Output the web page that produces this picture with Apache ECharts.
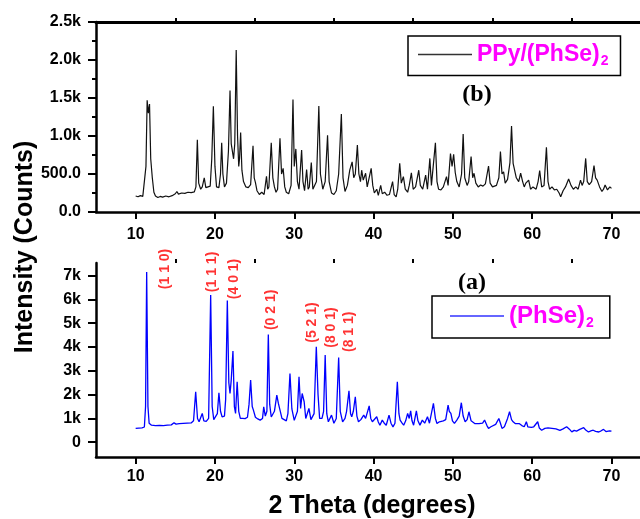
<!DOCTYPE html>
<html>
<head>
<meta charset="utf-8">
<script src="https://cdn.jsdelivr.net/npm/echarts@6/dist/echarts.min.js"></script>
<style>
html, body { margin: 0; padding: 0; background: #fff; }
#chart { width: 640px; height: 519px; }
</style>
</head>
<body>
<div id="chart"></div>
<script>
// (b) PPy/(PhSe)2 pattern, [2theta, counts]
var ppyData = [
  [10.0,210],[10.3,200],[10.6,215],[10.9,205],[11.1,230],[11.3,600],[11.45,1470],[11.6,1300],[11.75,1420],[11.9,700],[12.1,450],[12.3,260],[12.5,210],[12.8,190],[13.1,205],[13.4,195],[13.8,210],[14.2,200],[14.6,215],[15.0,240],[15.2,270],[15.4,235],[15.8,250],[16.2,245],[16.6,260],[17.0,255],[17.4,265],[17.6,330],[17.78,950],[17.95,380],[18.2,300],[18.4,330],[18.65,450],[18.85,320],[19.1,310],[19.4,340],[19.6,700],[19.8,1390],[20.0,600],[20.2,330],[20.5,320],[20.7,500],[20.85,910],[21.0,500],[21.2,330],[21.45,380],[21.7,800],[21.9,1600],[22.05,900],[22.2,880],[22.35,700],[22.5,900],[22.68,2130],[22.85,1000],[23.0,600],[23.1,700],[23.24,1045],[23.4,550],[23.6,400],[23.9,330],[24.2,320],[24.5,360],[24.8,870],[24.95,450],[25.1,390],[25.3,280],[25.6,230],[25.9,260],[26.2,230],[26.5,470],[26.65,300],[26.8,330],[27.1,910],[27.3,450],[27.5,330],[27.7,260],[27.9,300],[28.2,970],[28.4,500],[28.6,575],[28.8,330],[29.0,260],[29.3,240],[29.6,350],[29.84,1480],[30.0,600],[30.2,830],[30.4,400],[30.6,300],[30.93,815],[31.1,400],[31.3,280],[31.56,560],[31.75,300],[31.9,330],[32.15,650],[32.35,300],[32.55,280],[32.8,400],[33.1,1395],[33.3,500],[33.6,300],[33.9,400],[34.2,1010],[34.4,400],[34.7,250],[35.0,230],[35.3,280],[35.6,500],[35.94,1290],[36.15,450],[36.4,270],[36.7,350],[37.0,550],[37.3,660],[37.5,450],[37.7,500],[37.96,880],[38.15,500],[38.35,400],[38.5,550],[38.7,420],[39.0,510],[39.2,330],[39.45,350],[39.7,575],[39.9,350],[40.1,250],[40.4,300],[40.6,220],[40.9,350],[41.1,240],[41.4,260],[41.7,220],[42.0,230],[42.4,400],[42.6,230],[42.85,200],[43.05,300],[43.3,640],[43.5,380],[43.76,465],[44.0,300],[44.3,260],[44.5,350],[44.77,515],[45.0,300],[45.3,330],[45.7,550],[45.9,350],[46.2,300],[46.57,485],[46.8,300],[47.1,705],[47.3,350],[47.5,330],[47.8,910],[48.0,400],[48.2,300],[48.5,290],[48.8,330],[49.0,350],[49.2,465],[49.4,350],[49.7,770],[49.9,600],[50.1,760],[50.3,520],[50.5,400],[50.8,330],[51.1,500],[51.3,1025],[51.5,450],[51.8,350],[52.0,400],[52.3,730],[52.5,450],[52.67,510],[52.9,380],[53.2,330],[53.5,355],[53.8,340],[54.1,370],[54.5,605],[54.7,380],[55.0,330],[55.2,315],[55.5,350],[55.8,450],[56.0,795],[56.2,500],[56.4,530],[56.6,380],[56.9,430],[57.2,650],[57.4,1130],[57.6,640],[57.8,640],[58.0,450],[58.3,400],[58.55,510],[58.8,400],[59.0,330],[59.2,380],[59.56,420],[59.8,300],[60.1,330],[60.5,300],[60.75,400],[60.95,545],[61.2,330],[61.5,350],[61.8,850],[62.0,400],[62.2,300],[62.5,330],[62.8,290],[63.1,300],[63.4,250],[63.6,200],[63.9,280],[64.2,330],[64.6,435],[64.9,350],[65.2,300],[65.5,330],[65.8,300],[66.1,420],[66.3,350],[66.5,400],[66.75,705],[66.95,400],[67.2,360],[67.5,400],[67.8,610],[68.0,450],[68.2,420],[68.5,330],[68.8,270],[69.0,300],[69.2,355],[69.5,290],[69.8,330],[70.0,310]
];

// (a) (PhSe)2 pattern, [2theta, counts]
var phseData = [
  [10.0,580],[10.4,590],[10.8,600],[11.1,640],[11.25,1500],[11.39,7150],[11.55,1500],[11.7,800],[12.0,715],[12.5,700],[13.0,710],[13.5,700],[14.0,720],[14.5,730],[14.84,815],[15.1,760],[15.5,780],[16.0,790],[16.5,800],[17.0,810],[17.3,900],[17.57,2120],[17.8,1000],[18.0,860],[18.2,900],[18.4,1210],[18.6,900],[18.9,880],[19.2,1000],[19.46,6190],[19.65,1500],[19.85,950],[20.1,930],[20.3,1200],[20.5,2080],[20.7,1300],[20.9,1070],[21.2,1100],[21.35,1800],[21.56,5950],[21.75,2500],[21.9,2050],[22.05,2600],[22.27,3830],[22.45,1500],[22.6,1210],[22.8,2540],[23.0,1300],[23.2,1000],[23.5,1000],[23.8,990],[24.1,1050],[24.3,1600],[24.5,2610],[24.7,1500],[24.85,1350],[25.1,1050],[25.4,980],[25.7,930],[26.0,1000],[26.15,1490],[26.35,1100],[26.55,1300],[26.73,4530],[26.9,1600],[27.1,1060],[27.3,1100],[27.5,1300],[27.8,1980],[28.0,1630],[28.2,1700],[28.45,1000],[28.7,950],[29.0,900],[29.2,1200],[29.46,2890],[29.7,1400],[30.0,920],[30.2,900],[30.4,1300],[30.6,2750],[30.8,1420],[31.0,2050],[31.25,1700],[31.45,1000],[31.6,920],[31.85,1420],[32.1,950],[32.3,900],[32.5,1200],[32.78,4010],[33.0,2000],[33.2,1000],[33.5,1000],[33.7,1300],[33.9,3660],[34.1,1200],[34.3,860],[34.7,1140],[35.0,800],[35.3,1000],[35.6,3560],[35.8,1300],[36.1,860],[36.4,1000],[36.6,1300],[36.9,2160],[37.1,1200],[37.25,1070],[37.45,1300],[37.7,1910],[37.9,1100],[38.1,860],[38.4,950],[38.76,1140],[39.0,1000],[39.3,1350],[39.45,1530],[39.65,1000],[39.85,860],[40.1,900],[40.4,1070],[40.6,850],[40.8,715],[41.1,930],[41.35,800],[41.6,715],[41.95,1140],[42.2,800],[42.45,645],[42.7,800],[43.0,2540],[43.2,1200],[43.35,930],[43.6,800],[43.8,715],[44.05,900],[44.3,1210],[44.5,1000],[44.68,1320],[44.85,900],[45.05,715],[45.4,1320],[45.6,900],[45.85,720],[46.15,930],[46.45,800],[46.8,1070],[47.05,800],[47.25,720],[47.55,1630],[47.8,1000],[48.0,790],[48.3,860],[48.5,850],[48.8,900],[49.1,950],[49.4,1560],[49.55,1300],[49.75,1210],[49.95,900],[50.2,790],[50.5,930],[50.8,1100],[51.07,1660],[51.3,1100],[51.55,860],[51.8,950],[52.03,1280],[52.3,900],[52.55,860],[52.8,780],[53.0,715],[53.3,780],[53.5,860],[53.75,800],[54.0,930],[54.3,700],[54.5,580],[54.8,650],[55.0,645],[55.4,750],[55.8,1000],[56.0,800],[56.2,580],[56.5,650],[56.9,1000],[57.15,1280],[57.4,950],[57.6,860],[57.9,780],[58.1,715],[58.4,780],[58.7,700],[59.0,650],[59.27,860],[59.45,650],[59.65,580],[59.9,620],[60.2,650],[60.45,600],[60.7,860],[60.9,600],[61.2,505],[61.6,580],[62.0,600],[62.5,580],[63.0,560],[63.5,500],[63.9,560],[64.35,650],[64.7,550],[65.0,435],[65.3,500],[65.6,470],[66.0,540],[66.5,610],[66.8,500],[67.1,430],[67.4,480],[67.7,505],[68.0,460],[68.4,430],[68.7,480],[69.0,540],[69.3,450],[69.5,400],[69.75,480],[70.0,470]
];

// Miller index labels for (PhSe)2 peaks
var hklNames = ['(1 1 0)', '(1 1 1)', '(4 0 1)', '(0 2 1)', '(5 2 1)', '(8 0 1)', '(8 1 1)'];
var hklX = [13.7, 19.7, 22.4, 27.1, 32.3, 34.6, 36.9];
var hklY = [7280, 7155, 6860, 5560, 5030, 4820, 4640];

// tick values
var xMajor = [10, 20, 30, 40, 50, 60, 70];
var xMinor = [15, 25, 35, 45, 55, 65];
var yMajorA = [0, 1000, 2000, 3000, 4000, 5000, 6000, 7000];
var yMinorA = [-500, 500, 1500, 2500, 3500, 4500, 5500, 6500, 7500];

var FONT = '"Liberation Sans", Arial, sans-serif';
var X_MIN = 5, X_MAX = 73.6;   // plot runs off the right edge of the picture

var hklData = [];
for (var i = 0; i < hklNames.length; i++) {
    hklData.push({name: hklNames[i], value: [hklX[i], hklY[i]]});
}

function majorX(grid, margin) {
    return {
        gridIndex: grid, type: 'value', min: X_MIN, max: X_MAX,
        axisLine: {show: true, onZero: false, lineStyle: {color: '#000', width: 2.5}},
        axisTick: {show: true, length: 7, customValues: xMajor, lineStyle: {color: '#000', width: 2}},
        axisLabel: {show: true, customValues: xMajor, margin: margin, color: '#000',
            fontSize: 16, fontWeight: 'bold', fontFamily: FONT},
        splitLine: {show: false}
    };
}
function minorX(grid) {
    return {
        gridIndex: grid, type: 'value', min: X_MIN, max: X_MAX,
        axisLine: {show: false, onZero: false},
        axisTick: {show: true, length: 4, customValues: xMinor, lineStyle: {color: '#000', width: 2}},
        axisLabel: {show: false},
        splitLine: {show: false}
    };
}

var myChart = echarts.init(document.getElementById('chart'));
var option = {
    backgroundColor: '#fff',
    animation: false,
    grid: [
        {left: 96, top: 22, right: 0, height: 190},
        {left: 96, top: 263, right: 0, height: 194}
    ],
    xAxis: [
        majorX(0, 15), minorX(0), majorX(1, 12), minorX(1),
        {   // top frame line of panel (b)
            gridIndex: 0, type: 'value', min: X_MIN, max: X_MAX, position: 'top',
            axisLine: {show: true, onZero: false, lineStyle: {color: '#000', width: 3}},
            axisTick: {show: false}, axisLabel: {show: false}, splitLine: {show: false}
        }
    ],
    yAxis: [
        {
            gridIndex: 0, type: 'value', min: 0, max: 2500, interval: 500,
            axisLine: {show: true, onZero: false, lineStyle: {color: '#000', width: 2.5}},
            axisTick: {show: true, length: 8, lineStyle: {color: '#000', width: 2}},
            minorTick: {show: true, splitNumber: 2, length: 4, lineStyle: {color: '#000', width: 2}},
            axisLabel: {
                margin: 15, color: '#000', fontSize: 16, fontWeight: 'bold', fontFamily: FONT,
                formatter: function (v) {
                    return v < 1000 ? v.toFixed(1) : (v / 1000).toFixed(1) + 'k';
                }
            },
            splitLine: {show: false}
        },
        {
            gridIndex: 1, type: 'value', min: -620, max: 7530,
            axisLine: {show: true, onZero: false, lineStyle: {color: '#000', width: 2.5}},
            axisTick: {show: true, length: 8, customValues: yMajorA, lineStyle: {color: '#000', width: 2}},
            axisLabel: {
                customValues: yMajorA, margin: 15, color: '#000', fontSize: 16, fontWeight: 'bold', fontFamily: FONT,
                formatter: function (v) { return v === 0 ? '0' : (v / 1000) + 'k'; }
            },
            splitLine: {show: false}
        },
        {
            gridIndex: 1, type: 'value', min: -620, max: 7530,
            axisLine: {show: false, onZero: false},
            axisTick: {show: true, length: 4, customValues: yMinorA, lineStyle: {color: '#000', width: 2}},
            axisLabel: {show: false},
            splitLine: {show: false}
        }
    ],
    legend: [
        {
            data: [{name: 'PPy/(PhSe)2', icon: 'rect'}], left: 408, top: 36,
            borderColor: '#000', borderWidth: 1.5, padding: [7, 12, 7, 10],
            itemWidth: 54, itemHeight: 1.5,
            formatter: function () { return '{m|PPy/(PhSe)}{s|2}'; },
            textStyle: {
                rich: {
                    m: {color: '#ff00ff', fontSize: 23, fontWeight: 'bold', fontFamily: FONT},
                    s: {color: '#ff00ff', fontSize: 14, fontWeight: 'bold', fontFamily: FONT, padding: [14, 0, 0, 1]}
                }
            }
        },
        {
            data: [{name: '(PhSe)2', icon: 'rect'}], left: 432, top: 296,
            borderColor: '#000', borderWidth: 1.5, padding: [8, 16, 8, 18],
            itemWidth: 54, itemHeight: 1.5,
            formatter: function () { return '{m|(PhSe)}{s|2}'; },
            textStyle: {
                rich: {
                    m: {color: '#ff00ff', fontSize: 24, fontWeight: 'bold', fontFamily: FONT},
                    s: {color: '#ff00ff', fontSize: 14, fontWeight: 'bold', fontFamily: FONT, padding: [14, 0, 0, 1]}
                }
            }
        }
    ],
    graphic: [
        {type: 'text', x: 25, y: 247, rotation: Math.PI / 2,
            style: {text: 'Intensity (Counts)', font: 'bold 25px ' + FONT, fill: '#000', align: 'center', verticalAlign: 'middle'}},
        {type: 'text', x: 372, y: 506,
            style: {text: '2 Theta (degrees)', font: 'bold 25px ' + FONT, fill: '#000', align: 'center', verticalAlign: 'middle'}},
        {type: 'text', x: 477, y: 95,
            style: {text: '(b)', font: 'bold 24px "Liberation Serif", "Times New Roman", serif', fill: '#000', align: 'center', verticalAlign: 'middle'}},
        {type: 'text', x: 472, y: 283,
            style: {text: '(a)', font: 'bold 24px "Liberation Serif", "Times New Roman", serif', fill: '#000', align: 'center', verticalAlign: 'middle'}}
    ],
    series: [
        {
            name: 'PPy/(PhSe)2', type: 'line', xAxisIndex: 0, yAxisIndex: 0,
            data: ppyData, symbol: 'none', lineStyle: {color: '#111', width: 1.2},
            itemStyle: {color: '#333'}
        },
        {
            name: '(PhSe)2', type: 'line', xAxisIndex: 2, yAxisIndex: 1,
            data: phseData, symbol: 'none', lineStyle: {color: '#0000ff', width: 1.3},
            itemStyle: {color: '#3333ff'}
        },
        {
            name: 'hkl', type: 'scatter', xAxisIndex: 2, yAxisIndex: 1,
            data: hklData, symbolSize: 0, silent: true,
            label: {
                show: true, position: 'inside', rotate: 90, formatter: '{b}',
                color: '#ff0000', fontSize: 14, fontWeight: 'bold', fontFamily: FONT
            }
        }
    ]
};
myChart.setOption(option);
window.onresize = myChart.resize;
</script>
</body>
</html>
